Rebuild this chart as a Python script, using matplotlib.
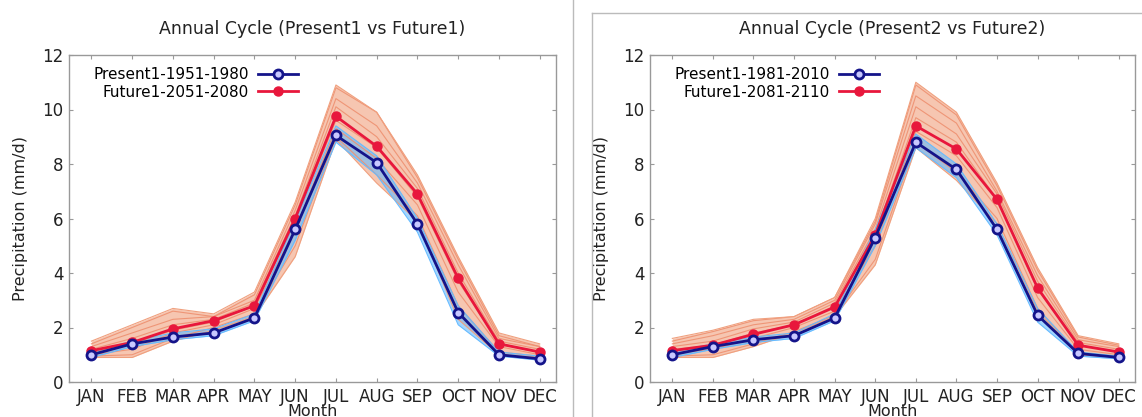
import matplotlib
matplotlib.use("Agg")
import matplotlib.pyplot as plt
from matplotlib.lines import Line2D

months = ["JAN", "FEB", "MAR", "APR", "MAY", "JUN", "JUL", "AUG", "SEP", "OCT", "NOV", "DEC"]
x_pos = list(range(1, 13))

titles = ["Annual Cycle (Present1 vs Future1)", "Annual Cycle (Present2 vs Future2)"]
present_labels = ["Present1-1951-1980", "Present1-1981-2010"]
future_labels = ["Future1-2051-2080", "Future1-2081-2110"]

# Panel 1 means
present1 = [1.0, 1.4, 1.65, 1.8, 2.35, 5.6, 9.05, 8.05, 5.8, 2.55, 1.0, 0.85]
future1 = [1.15, 1.45, 1.95, 2.25, 2.8, 6.0, 9.75, 8.65, 6.9, 3.8, 1.4, 1.1]
# Panel 1 ensemble envelopes
present1_lo = [0.9, 1.3, 1.55, 1.7, 2.25, 5.2, 8.8, 7.6, 5.5, 2.1, 0.95, 0.8]
present1_hi = [1.1, 1.5, 1.8, 1.95, 2.5, 5.9, 9.4, 8.3, 6.0, 2.8, 1.1, 0.95]
future1_lo = [0.9, 0.9, 1.5, 1.9, 2.4, 4.6, 8.9, 7.3, 5.9, 2.3, 1.0, 0.9]
future1_hi = [1.5, 2.1, 2.7, 2.5, 3.3, 6.6, 10.9, 9.9, 7.6, 4.6, 1.8, 1.4]
future1_members = [
    [1.4, 2.0, 2.6, 2.4, 3.2, 6.5, 10.8, 9.9, 7.5, 4.5, 1.7, 1.3],
    [1.3, 1.8, 2.3, 2.4, 3.0, 6.3, 10.4, 9.4, 7.3, 4.3, 1.6, 1.3],
    [1.2, 1.6, 2.1, 2.3, 2.9, 6.1, 10.1, 9.0, 7.1, 4.0, 1.5, 1.2],
    [1.1, 1.4, 1.9, 2.2, 2.8, 5.9, 9.6, 8.6, 6.8, 3.7, 1.4, 1.1],
    [1.0, 1.2, 1.8, 2.1, 2.7, 5.6, 9.3, 8.2, 6.5, 3.3, 1.3, 1.0],
    [0.95, 1.0, 1.6, 2.0, 2.5, 5.0, 9.0, 7.6, 6.1, 2.8, 1.1, 0.95],
]

# Panel 2 means
present2 = [1.0, 1.3, 1.55, 1.7, 2.35, 5.3, 8.8, 7.8, 5.6, 2.45, 1.05, 0.9]
future2 = [1.15, 1.35, 1.75, 2.1, 2.75, 5.4, 9.4, 8.55, 6.7, 3.45, 1.35, 1.1]
present2_lo = [0.9, 1.2, 1.45, 1.6, 2.25, 5.0, 8.6, 7.5, 5.4, 2.2, 0.95, 0.85]
present2_hi = [1.1, 1.4, 1.65, 1.8, 2.5, 5.6, 9.1, 8.0, 5.8, 2.7, 1.1, 0.95]
future2_lo = [0.9, 0.9, 1.3, 1.8, 2.4, 4.3, 8.6, 7.4, 5.8, 2.6, 1.0, 0.9]
future2_hi = [1.6, 1.9, 2.3, 2.4, 3.1, 6.0, 11.0, 9.9, 7.3, 4.2, 1.7, 1.4]
future2_members = [
    [1.5, 1.85, 2.25, 2.4, 3.1, 5.9, 10.9, 9.8, 7.2, 4.1, 1.65, 1.35],
    [1.4, 1.7, 2.1, 2.3, 3.0, 5.8, 10.5, 9.5, 7.0, 3.9, 1.55, 1.3],
    [1.3, 1.5, 1.95, 2.2, 2.9, 5.6, 10.1, 9.1, 6.9, 3.7, 1.45, 1.2],
    [1.2, 1.35, 1.8, 2.1, 2.8, 5.4, 9.7, 8.8, 6.7, 3.4, 1.35, 1.1],
    [1.05, 1.2, 1.6, 2.0, 2.6, 5.0, 9.2, 8.3, 6.4, 3.1, 1.2, 1.0],
    [0.95, 1.0, 1.4, 1.85, 2.45, 4.5, 8.8, 7.7, 6.0, 2.7, 1.05, 0.95],
]

panels = [
    (present1, future1, present1_lo, present1_hi, future1_lo, future1_hi, future1_members),
    (present2, future2, present2_lo, present2_hi, future2_lo, future2_hi, future2_members),
]

plt.rcParams['font.family'] = ['DejaVu Sans']
fig = plt.figure(figsize=(11.42, 4.17), dpi=100)

axes_rects = [
    [69 / 1142, 1 - 382 / 417, (556 - 69) / 1142, (382 - 55) / 417],
    [650 / 1142, 1 - 382 / 417, (1135 - 650) / 1142, (382 - 55) / 417],
]

navy = "#14148a"
red = "#e8173c"
salmon = "#f0a07e"
lightblue = "#66bbff"

for i, (pres, fut, plo, phi, flo, fhi, fmem) in enumerate(panels):
    ax = fig.add_axes(axes_rects[i])
    ax.fill_between(x_pos, flo, fhi, color=salmon, alpha=0.6, lw=0)
    for m in fmem:
        ax.plot(x_pos, m, color="#ee9070", lw=0.8, alpha=0.9)
    ax.plot(x_pos, flo, color=salmon, lw=0.8)
    ax.plot(x_pos, fhi, color=salmon, lw=0.8)
    ax.fill_between(x_pos, plo, phi, color=lightblue, alpha=0.6, lw=0)
    ax.plot(x_pos, plo, color=lightblue, lw=0.8)
    ax.plot(x_pos, phi, color=lightblue, lw=0.8)
    ax.plot(x_pos, pres, color=navy, lw=2, marker='o', ms=6.5, mfc='#c8c8ff', mec=navy, mew=2,
            label=present_labels[i], zorder=5)
    ax.plot(x_pos, fut, color=red, lw=2, marker='o', ms=6.5, mfc=red, mec=red,
            label=future_labels[i], zorder=4)
    ax.set_xlim(0.45, 12.4)
    ax.set_ylim(0, 12)
    ax.set_xticks(x_pos)
    ax.set_xticklabels(months)
    ax.set_yticks([0, 2, 4, 6, 8, 10, 12])
    ax.tick_params(direction='in', length=3, color='#999999', labelsize=12,
                   top=True, right=True, pad=4, labelcolor='#222222')
    for s in ax.spines.values():
        s.set_color('#999999')
        s.set_linewidth(1.0)
    ax.set_title(titles[i], fontsize=12.5, pad=15, color='#222222')
    ax.set_ylabel("Precipitation (mm/d)", fontsize=11.5, labelpad=10, color='#222222')
    ax.set_xlabel("Month", fontsize=11.5, labelpad=-1, color='#222222')
    ax.legend(loc='upper left', bbox_to_anchor=(0.025, 1.0), frameon=False,
              markerfirst=False, fontsize=11, handlelength=2.6, borderpad=0.3,
              labelspacing=0.15, handletextpad=0.6)

# panel frame lines
fig.add_artist(Line2D([573 / 1142, 573 / 1142], [0, 1], color='#bbbbbb', lw=1))
fig.add_artist(Line2D([592 / 1142, 592 / 1142], [0, 1 - 13 / 417], color='#bbbbbb', lw=1))
fig.add_artist(Line2D([592 / 1142, 1.0], [1 - 13 / 417, 1 - 13 / 417], color='#bbbbbb', lw=1))

fig.savefig("out.png", dpi=100)
